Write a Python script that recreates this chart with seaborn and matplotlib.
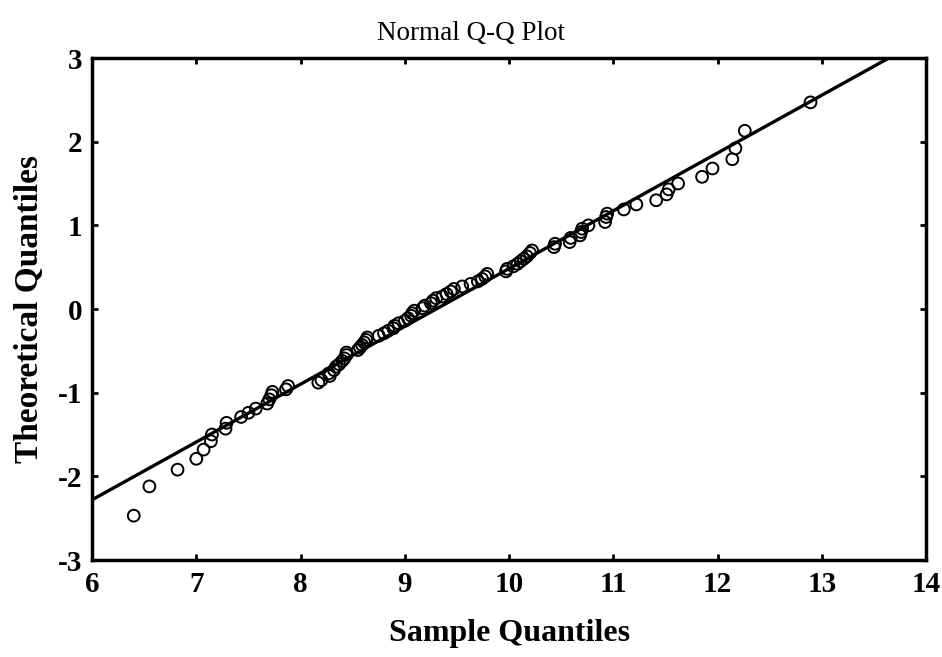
import matplotlib
matplotlib.use("Agg")
import matplotlib.pyplot as plt
import seaborn as sns
import pandas as pd

# Ordered sample values and their theoretical normal quantiles
sample_quantiles = [
    6.40, 6.55, 6.82, 7.00, 7.07, 7.14, 7.15, 7.28, 7.29, 7.43,
    7.50, 7.57, 7.68, 7.70, 7.72, 7.73, 7.86, 7.88, 8.17, 8.20,
    8.28, 8.27, 8.32, 8.34, 8.37, 8.40, 8.42, 8.44, 8.44, 8.55,
    8.57, 8.59, 8.61, 8.63, 8.64, 8.75, 8.80, 8.84, 8.89, 8.90,
    8.94, 9.00, 9.03, 9.06, 9.07, 9.09, 9.17, 9.19, 9.25, 9.27,
    9.30, 9.36, 9.40, 9.44, 9.47, 9.55, 9.63, 9.70, 9.74, 9.77,
    9.79, 9.97, 9.98, 10.04, 10.08, 10.11, 10.14, 10.17, 10.20, 10.22,
    10.43, 10.44, 10.58, 10.59, 10.68, 10.69, 10.70, 10.76, 10.92, 10.93,
    10.94, 11.10, 11.22, 11.41, 11.51, 11.53, 11.62, 11.85, 11.95, 12.14,
    12.17, 12.26, 12.89,
]
theoretical_quantiles = [
    -2.47, -2.12, -1.92, -1.79, -1.68, -1.58, -1.50, -1.43, -1.36, -1.29,
    -1.24, -1.19, -1.13, -1.08, -1.03, -0.99, -0.96, -0.92, -0.88, -0.85,
    -0.80, -0.77, -0.73, -0.69, -0.66, -0.62, -0.59, -0.55, -0.52, -0.49,
    -0.46, -0.43, -0.40, -0.37, -0.34, -0.32, -0.29, -0.26, -0.23, -0.20,
    -0.17, -0.14, -0.11, -0.08, -0.05, -0.02, 0.01, 0.04, 0.07, 0.10,
    0.13, 0.15, 0.18, 0.21, 0.24, 0.27, 0.30, 0.33, 0.36, 0.39,
    0.42, 0.45, 0.48, 0.51, 0.54, 0.57, 0.60, 0.63, 0.67, 0.70,
    0.74, 0.78, 0.80, 0.85, 0.88, 0.92, 0.96, 1.00, 1.04, 1.10,
    1.14, 1.19, 1.25, 1.30, 1.37, 1.43, 1.50, 1.58, 1.68, 1.79,
    1.92, 2.13, 2.47,
]

# Reference line: fitted normal mean and standard deviation
line_mean = 9.30
line_sd = 1.447

x_ticks = [6, 7, 8, 9, 10, 11, 12, 13, 14]
y_ticks = [-3, -2, -1, 0, 1, 2, 3]

df = pd.DataFrame({"sample": sample_quantiles, "theoretical": theoretical_quantiles})

sns.set_theme(style="ticks")
plt.rcParams["font.family"] = ["Liberation Serif", "DejaVu Serif"]
plt.rcParams["axes.unicode_minus"] = False
plt.rcParams["text.color"] = "black"
plt.rcParams["axes.labelcolor"] = "black"
plt.rcParams["xtick.color"] = "black"
plt.rcParams["ytick.color"] = "black"

fig = plt.figure(figsize=(9.42, 6.57), dpi=100)
ax = fig.add_axes([0.0977, 0.1476, 0.8856, 0.7641])

sns.scatterplot(data=df, x="sample", y="theoretical", ax=ax, marker="o",
                s=72, facecolors="none", edgecolor="black", linewidth=1.4,
                zorder=3)
ax.axline((line_mean, 0), slope=1 / line_sd, color="black", linewidth=2.4,
          zorder=2)

ax.set_xlim(x_ticks[0], x_ticks[-1])
ax.set_ylim(y_ticks[0], y_ticks[-1])
ax.set_xticks(x_ticks)
ax.set_yticks(y_ticks)
ax.set_xticklabels([str(v) for v in x_ticks], fontweight="bold", fontsize=21)
ax.set_yticklabels([str(v) for v in y_ticks], fontweight="bold", fontsize=21)
ax.tick_params(axis="both", direction="in", length=4, width=2, color="black",
               top=True, right=True, labelcolor="black")
ax.tick_params(axis="x", pad=8)
ax.tick_params(axis="y", pad=7)
for spine in ax.spines.values():
    spine.set_visible(True)
    spine.set_linewidth(2.5)
    spine.set_color("black")

ax.set_xlabel("Sample Quantiles", fontsize=23, fontweight="bold", labelpad=15,
              color="black")
ax.set_ylabel("Theoretical Quantiles", fontsize=24, fontweight="bold", labelpad=9,
              color="black")
fig.suptitle("Normal Q-Q Plot", fontsize=19.5, y=0.968, color="black")

fig.savefig("out.png", dpi=100)
